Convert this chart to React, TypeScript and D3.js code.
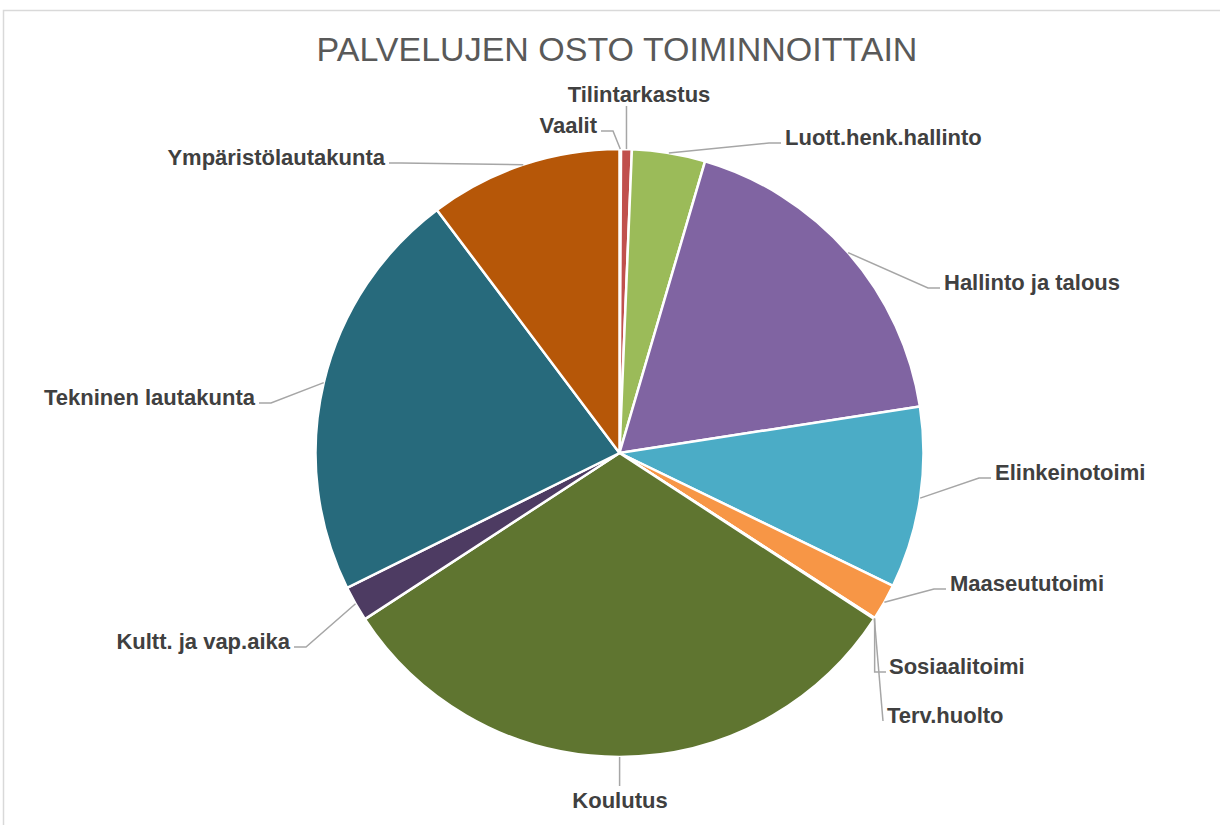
import * as d3 from 'd3';
import React, { useRef, useEffect } from 'react';

// service purchases by function, share in percent
const categories = [
  'Vaalit', 'Tilintarkastus', 'Luott.henk.hallinto', 'Hallinto ja talous',
  'Elinkeinotoimi', 'Maaseututoimi', 'Sosiaalitoimi', 'Terv.huolto',
  'Koulutus', 'Kultt. ja vap.aika', 'Tekninen lautakunta', 'Ympäristölautakunta'
];
const values = [0.08, 0.57, 3.89, 18.01, 9.64, 1.94, 0.03, 0.03, 31.6, 1.89, 22.06, 10.25];
const colors = [
  '#4F81BD', '#C0504D', '#9BBB59', '#8064A2', '#4BACC6', '#F79646',
  '#2C4D75', '#772C2A', '#5F7530', '#4D3B62', '#276A7C', '#B65708'
];
const title = 'PALVELUJEN OSTO TOIMINNOITTAIN';

// where the labels sit and how the leader reaches them
const labelLayout = [
  { x: 597, y: 133, anchor: 'end', leader: 'h' },
  { x: 639, y: 102, anchor: 'middle', leader: 'v' },
  { x: 785, y: 145, anchor: 'start', leader: 'h' },
  { x: 944, y: 290, anchor: 'start', leader: 'h' },
  { x: 995, y: 480, anchor: 'start', leader: 'h' },
  { x: 950, y: 591, anchor: 'start', leader: 'h' },
  { x: 889, y: 674, anchor: 'start', leader: 'vh' },
  { x: 887, y: 723, anchor: 'start', leader: 'd' },
  { x: 620, y: 808, anchor: 'middle', leader: 'v' },
  { x: 290, y: 649, anchor: 'end', leader: 'h' },
  { x: 255, y: 405, anchor: 'end', leader: 'h' },
  { x: 385, y: 165, anchor: 'end', leader: 'h' }
];

function App() {
  const ref = useRef<SVGSVGElement>(null);
  const width = 1220;
  const height = 825;

  useEffect(() => {
    const svg = d3.select(ref.current);
    svg.selectAll('*').remove();

    svg.append('rect').attr('width', width).attr('height', height).attr('fill', '#fff');
    // chart frame (only top and left edges visible)
    svg.append('path')
      .attr('d', `M3.5,${height} L3.5,10.5 L${width},10.5`)
      .attr('fill', 'none')
      .attr('stroke', '#d9d9d9')
      .attr('stroke-width', 1.5);

    svg.append('text')
      .attr('x', 617)
      .attr('y', 61)
      .attr('text-anchor', 'middle')
      .attr('font-family', 'Liberation Sans, Arial, sans-serif')
      .attr('font-size', 34)
      .attr('fill', '#595959')
      .text(title);

    const cx = 619.5, cy = 453, r = 304;
    const pie = d3.pie<number>().sort(null).value(d => d);
    const arcs = pie(values);
    const arc = d3.arc<d3.PieArcDatum<number>>().innerRadius(0).outerRadius(r);

    const g = svg.append('g').attr('transform', `translate(${cx},${cy})`);
    g.selectAll('path.slice')
      .data(arcs)
      .enter()
      .append('path')
      .attr('class', 'slice')
      .attr('d', arc)
      .attr('fill', (d, i) => colors[i])
      .attr('stroke', '#fff')
      .attr('stroke-width', 2.5)
      .attr('stroke-linejoin', 'round');

    // leader lines
    const lines = svg.append('g');
    arcs.forEach((a, i) => {
      const L = labelLayout[i];
      const mid = (a.startAngle + a.endAngle) / 2;
      const px = cx + r * Math.sin(mid);
      const py = cy - r * Math.cos(mid);
      const ly = L.y - 2;
      let pts: [number, number][] = [];
      if (L.leader === 'h') {
        const ex = L.anchor === 'start' ? L.x - 4 : L.x + 4;
        const bx = L.anchor === 'start' ? ex - 12 : ex + 12;
        pts = [[px, py], [bx, ly], [ex, ly]];
      } else if (L.leader === 'v') {
        const ey = L.y < py ? L.y + 4 : L.y - 22;
        pts = [[px, py], [px, ey]];
      } else if (L.leader === 'vh') {
        pts = [[px, py], [px, ly], [L.x - 3, ly]];
      } else {
        pts = [[px, py], [L.x - 4, ly]];
      }
      lines.append('path')
        .attr('d', d3.line()(pts))
        .attr('fill', 'none')
        .attr('stroke', '#a6a6a6')
        .attr('stroke-width', 1.5);
    });

    svg.append('g')
      .selectAll('text')
      .data(categories)
      .enter()
      .append('text')
      .attr('x', (d, i) => labelLayout[i].x)
      .attr('y', (d, i) => labelLayout[i].y)
      .attr('text-anchor', (d, i) => labelLayout[i].anchor)
      .attr('font-family', 'Liberation Sans, Arial, sans-serif')
      .attr('font-weight', 'bold')
      .attr('font-size', 22)
      .attr('fill', '#404040')
      .text(d => d);
  }, []);

  return (
    <svg ref={ref} width={width} height={height}
      style={{ position: 'absolute', left: 0, top: 0, display: 'block' }}>
    </svg>
  );
}

export default App;
